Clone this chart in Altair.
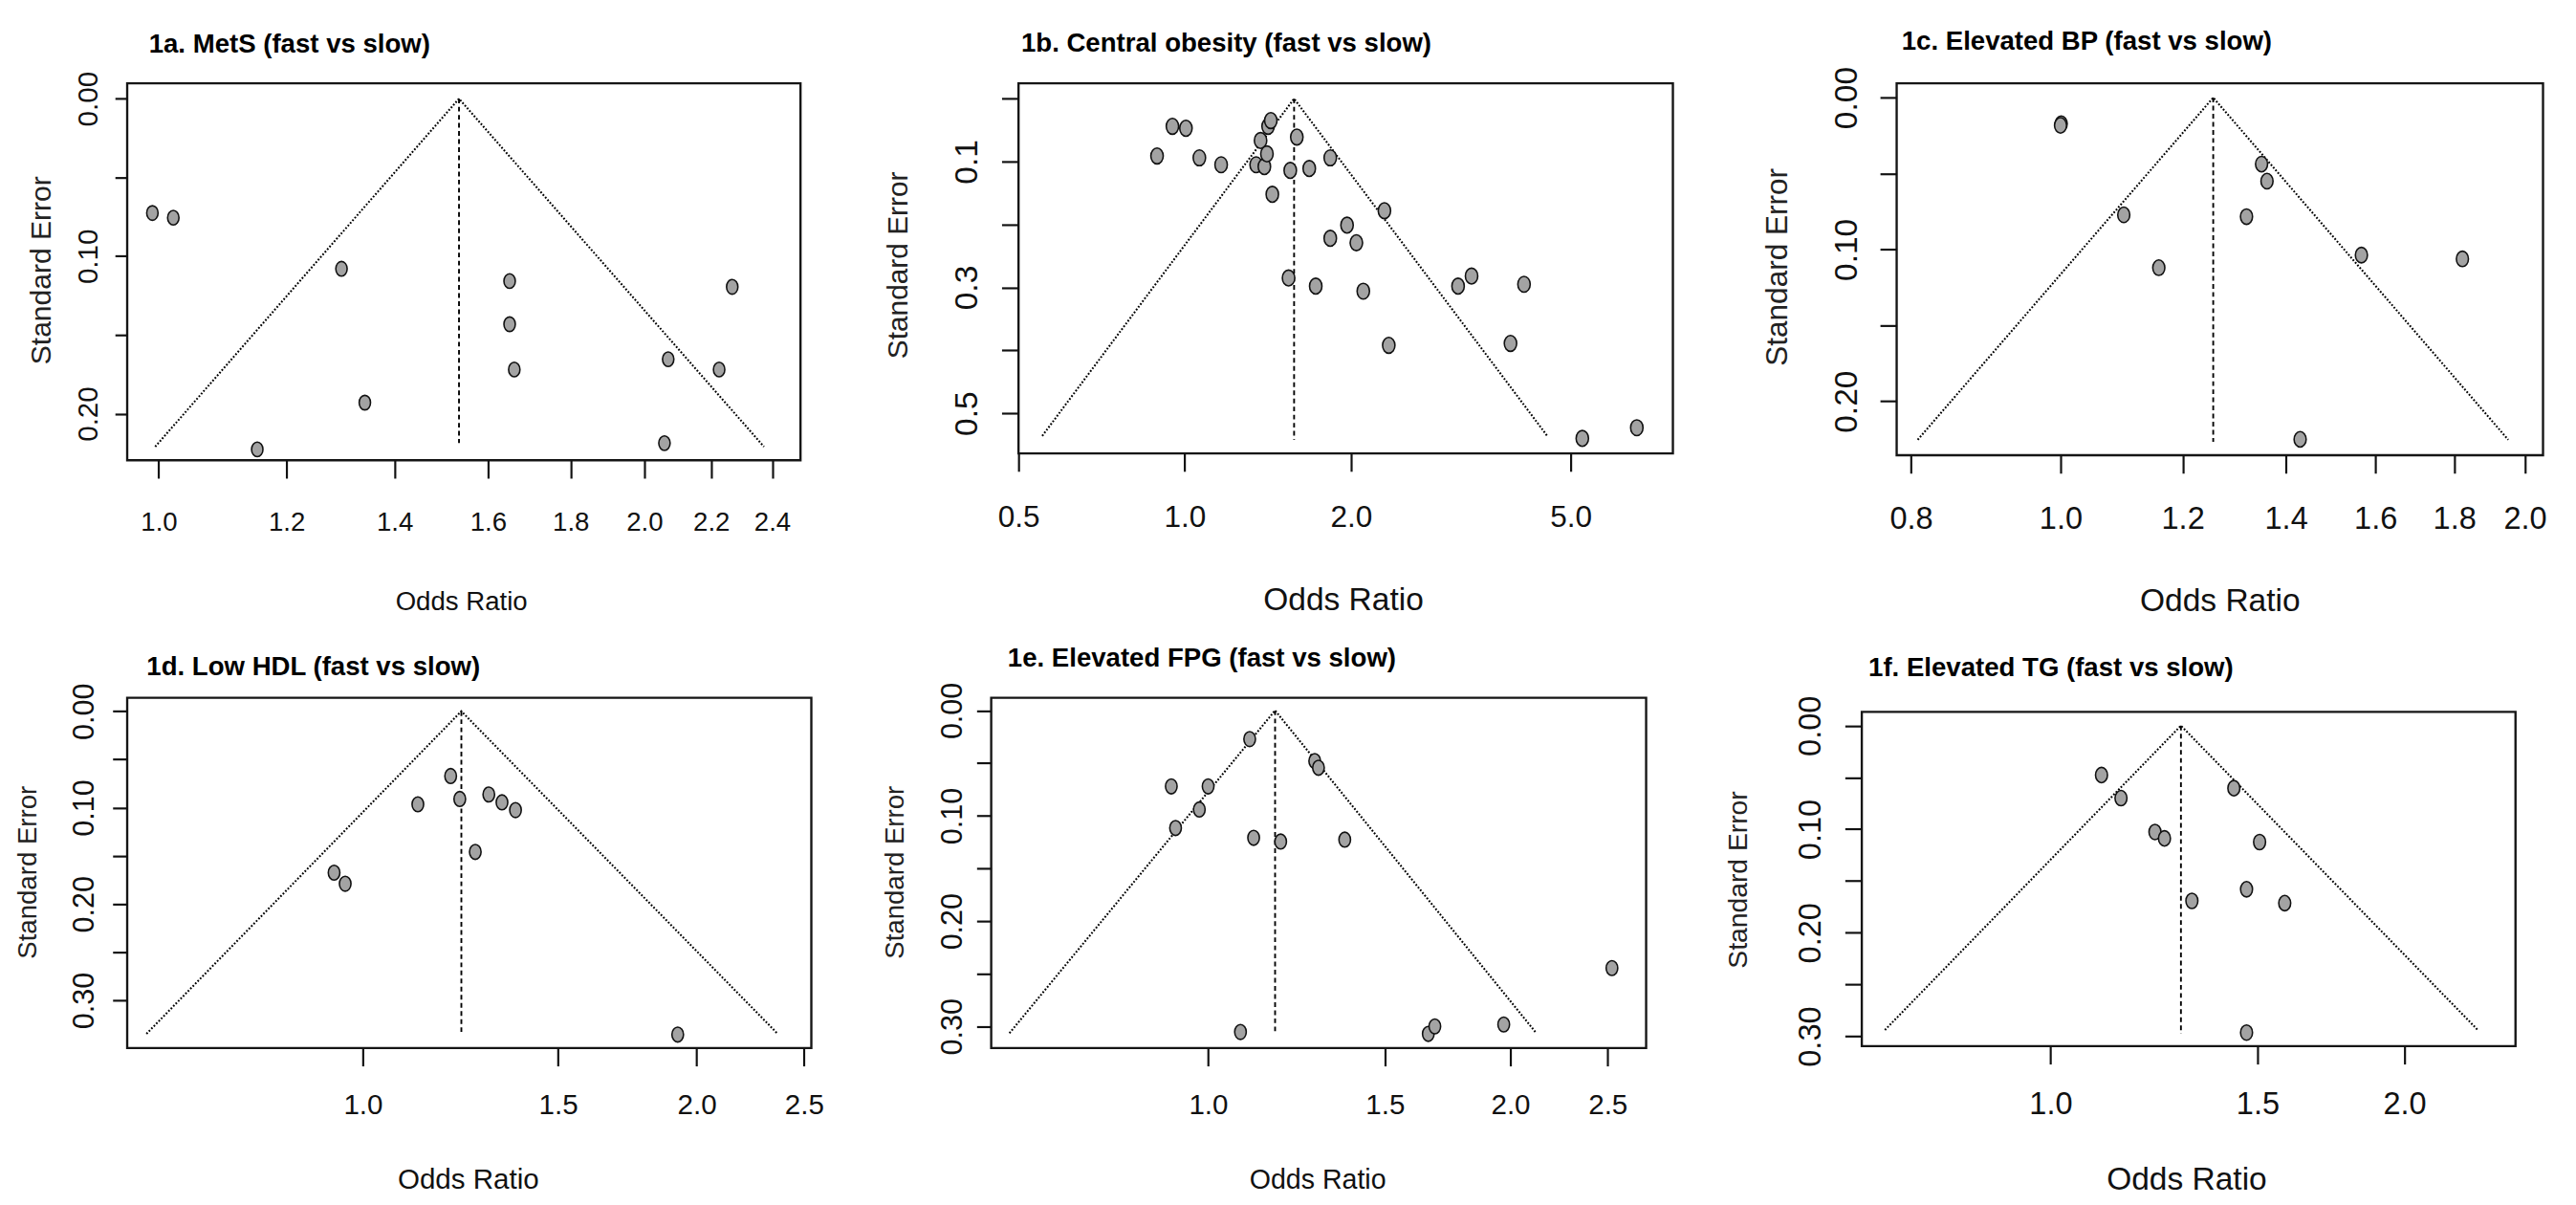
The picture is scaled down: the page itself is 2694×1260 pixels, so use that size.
import altair as alt
import pandas as pd

# ---------------- data ----------------
TITLES = [
    "1a. MetS (fast vs slow)",
    "1b. Central obesity (fast vs slow)",
    "1c. Elevated BP (fast vs slow)",
    "1d. Low HDL (fast vs slow)",
    "1e. Elevated FPG (fast vs slow)",
    "1f. Elevated TG (fast vs slow)",
]

# study odds ratios and standard errors
OR_A = [0.991, 1.021, 1.298, 1.342, 1.151, 1.650, 1.650, 1.661, 2.069, 2.225, 2.267, 2.058]
SE_A = [0.0726, 0.0756, 0.108, 0.193, 0.2227, 0.1158, 0.1432, 0.172, 0.1654, 0.172, 0.1195, 0.2187]

OR_B = [0.950, 1.005, 0.891, 1.063, 1.164, 1.347, 1.394, 1.372, 1.409, 1.416, 1.432, 1.441,
        1.553, 1.596, 1.681, 1.835, 1.542, 1.727, 1.835, 1.968, 2.046, 2.106, 2.300, 2.342,
        3.127, 3.308, 4.117, 3.891, 5.25, 6.59]
SE_B = [0.0439, 0.047, 0.091, 0.094, 0.105, 0.105, 0.108, 0.0665, 0.0878, 0.0439, 0.0348, 0.152,
        0.114, 0.061, 0.111, 0.094, 0.285, 0.298, 0.222, 0.201, 0.229, 0.306, 0.178, 0.392,
        0.298, 0.282, 0.295, 0.389, 0.540, 0.523]

OR_C = [1.001, 1.000, 1.099, 1.158, 1.320, 1.350, 1.361, 1.567, 1.822, 1.430]
SE_C = [0.0172, 0.0183, 0.0772, 0.112, 0.0784, 0.0438, 0.055, 0.1037, 0.1062, 0.225]

OR_D = [1.200, 1.121, 1.223, 1.299, 1.335, 1.373, 1.263, 0.942, 0.964, 1.923]
SE_D = [0.0672, 0.0965, 0.091, 0.0864, 0.0945, 0.1026, 0.146, 0.1675, 0.179, 0.3355]

OR_E = [1.100, 1.277, 1.288, 0.919, 1.000, 0.980, 0.928, 1.110, 1.181, 1.368, 2.525, 1.077,
        1.657, 1.682, 1.970]
SE_E = [0.0272, 0.048, 0.0544, 0.0721, 0.0721, 0.094, 0.1116, 0.1209, 0.1244, 0.1226, 0.2446,
        0.3053, 0.3071, 0.300, 0.2982]

OR_F = [1.105, 1.148, 1.227, 1.250, 1.432, 1.506, 1.468, 1.319, 1.582, 1.468]
SE_F = [0.0477, 0.070, 0.1027, 0.1089, 0.0604, 0.1124, 0.158, 0.1692, 0.1714, 0.2964]

ORS = [OR_A, OR_B, OR_C, OR_D, OR_E, OR_F]
SES = [SE_A, SE_B, SE_C, SE_D, SE_E, SE_F]

# pooled estimate (apex) and funnel corners
CENTER = [1.535, 1.578, 1.256, 1.227, 1.166, 1.291]
FUNNEL_LEFT = [0.995, 0.552, 0.808, 0.638, 0.634, 0.723]
FUNNEL_RIGHT = [2.372, 4.535, 1.951, 2.367, 2.123, 2.309]
FUNNEL_SE = [0.221, 0.536, 0.2253, 0.3347, 0.3064, 0.2939]
CENTER_SE_END = [0.2186, 0.542, 0.2266, 0.3328, 0.3053, 0.2975]

# axes
X_TICKS = [
    [1.0, 1.2, 1.4, 1.6, 1.8, 2.0, 2.2, 2.4],
    [0.5, 1.0, 2.0, 5.0],
    [0.8, 1.0, 1.2, 1.4, 1.6, 1.8, 2.0],
    [1.0, 1.5, 2.0, 2.5],
    [1.0, 1.5, 2.0, 2.5],
    [1.0, 1.5, 2.0],
]
Y_TICKS = [
    [0.0, 0.05, 0.1, 0.15, 0.2],
    [0.0, 0.1, 0.2, 0.3, 0.4, 0.5],
    [0.0, 0.05, 0.1, 0.15, 0.2],
    [0.0, 0.05, 0.1, 0.15, 0.2, 0.25, 0.3],
    [0.0, 0.05, 0.1, 0.15, 0.2, 0.25, 0.3],
    [0.0, 0.05, 0.1, 0.15, 0.2, 0.25, 0.3],
]
Y_LABELED = [
    [0.0, 0.1, 0.2],
    [0.1, 0.3, 0.5],
    [0.0, 0.1, 0.2],
    [0.0, 0.1, 0.2, 0.3],
    [0.0, 0.1, 0.2, 0.3],
    [0.0, 0.1, 0.2, 0.3],
]
Y_FORMAT = [".2f", ".1f", ".2f", ".2f", ".2f", ".2f"]
X_DOMAIN = [[0.956, 2.499], [0.5, 7.66], [0.783, 2.055], [0.613, 2.538], [0.608, 2.731], [0.691, 2.486]]
Y_DOMAIN = [[-0.00975, 0.2296], [-0.0244, 0.5638], [-0.0094, 0.2355],
            [-0.014, 0.3494], [-0.0121, 0.3205], [-0.0133, 0.3095]]

# ---------------- layout / style ----------------
INK = "#111111"
SANS = "Liberation Sans, Arial, sans-serif"
ELLIPSE = "M0,-1 A0.78,1 0 1,1 0,1 A0.78,1 0 1,1 0,-1 Z"

LAY = [
    dict(w=714.6, h=400.0, E=121.7, R=33.7, T=77.5, B=174.5, tdx=23, tdy=-32.5, yt=13, yl_fs=30, yl_pad=18.7,
         yt_fs=30.5, yt_x=-81.3, yt_y=198, xl_fs=28, xl_pad=55.2, xt_fs=28, xt_x=354.3, xt_y=158.6, size=240),
    dict(w=694.5, h=392.7, E=176.5, R=49.0, T=76.7, B=182.6, tdx=2.8, tdy=-33.9, yt=18, yl_fs=34, yl_pad=26.8,
         yt_fs=30.3, yt_x=-118.4, yt_y=192.6, xl_fs=32, xl_pad=58.1, xt_fs=34, xt_x=344.4, xt_y=165.6, size=285),
    dict(w=686.0, h=394.7, E=185.0, R=33.0, T=74.7, B=182.6, tdx=5.3, tdy=-35.9, yt=17.7, yl_fs=34, yl_pad=25.3,
         yt_fs=32, yt_x=-116.9, yt_y=194.6, xl_fs=33, xl_pad=58.1, xt_fs=34, xt_x=342.8, xt_y=165.2, size=270),
    dict(w=726.1, h=371.7, E=133.2, R=40.7, T=71.7, B=164.6, tdx=20.6, tdy=-24.4, yt=15.5, yl_fs=31, yl_pad=20.1,
         yt_fs=28, yt_x=-97.4, yt_y=184.9, xl_fs=30, xl_pad=50.9, xt_fs=30, xt_x=361.6, xt_y=149, size=250),
    dict(w=695.1, h=371.7, E=147.6, R=32.3, T=71.7, B=164.6, tdx=17.5, tdy=-33.0, yt=15.5, yl_fs=31, yl_pad=16.1,
         yt_fs=28, yt_x=-93.3, yt_y=184.9, xl_fs=30, xl_pad=50.9, xt_fs=29, xt_x=346.1, xt_y=149, size=250),
    dict(w=693.8, h=354.7, E=177.6, R=47.6, T=86.8, B=166.5, tdx=7.1, tdy=-37.6, yt=18, yl_fs=33, yl_pad=26,
         yt_fs=28.7, yt_x=-122.3, yt_y=177.7, xl_fs=33, xl_pad=52.5, xt_fs=34, xt_x=344.4, xt_y=151.5, size=265),
]


def panel(i):
    L = LAY[i]
    w, h = L["w"], L["h"]
    x_enc = alt.X(
        "or:Q",
        scale=alt.Scale(type="log", domain=X_DOMAIN[i], nice=False, zero=False),
        axis=alt.Axis(
            values=X_TICKS[i], format=".1f", domain=False, grid=False,
            tickSize=19, tickWidth=2.2, tickColor=INK,
            labelFont=SANS, labelFontSize=L["xl_fs"], labelColor=INK, labelPadding=L["xl_pad"],
            labelAngle=0, labelAlign="center", labelBaseline="alphabetic",
            labelOverlap=False, labelFlush=False,
            title="Odds Ratio", titleFont=SANS, titleFontSize=L["xt_fs"], titleFontWeight="normal",
            titleColor=INK, titleX=L["xt_x"], titleY=L["xt_y"], titleAlign="center",
            titleBaseline="alphabetic",
        ),
    )
    lab_expr = "indexof(%s, datum.value) >= 0 ? datum.label : ''" % str(Y_LABELED[i])
    y_enc = alt.Y(
        "se:Q",
        scale=alt.Scale(domain=Y_DOMAIN[i], reverse=True, nice=False, zero=False),
        axis=alt.Axis(
            values=Y_TICKS[i], format=Y_FORMAT[i], labelExpr=lab_expr, domain=False, grid=False,
            tickSize=L["yt"], tickWidth=2.2, tickColor=INK,
            labelFont=SANS, labelFontSize=L["yl_fs"], labelColor=INK, labelPadding=L["yl_pad"],
            labelAngle=270, labelAlign="center", labelBaseline="alphabetic",
            labelOverlap=False, labelFlush=False,
            title="Standard Error", titleFont=SANS, titleFontSize=L["yt_fs"], titleFontWeight="normal",
            titleColor="#222222", titleAngle=270, titleX=L["yt_x"], titleY=L["yt_y"],
            titleAlign="center", titleBaseline="alphabetic",
        ),
    )

    pts = pd.DataFrame({"or": ORS[i], "se": SES[i]})
    funnel = pd.DataFrame({
        "or": [FUNNEL_LEFT[i], CENTER[i], FUNNEL_RIGHT[i]],
        "se": [FUNNEL_SE[i], 0.0, FUNNEL_SE[i]],
        "k": [0, 1, 2],
    })
    center = pd.DataFrame({"or": [CENTER[i]], "se": [0.0], "se2": [CENTER_SE_END[i]]})
    head = pd.DataFrame({"t": [TITLES[i]]})

    frame = alt.Chart(head).mark_rect(opacity=0).encode(
        x=alt.value(-L["E"]), x2=alt.value(w + L["R"]),
        y=alt.value(-L["T"]), y2=alt.value(h + L["B"]),
    )
    funnel_line = alt.Chart(funnel).mark_line(
        color="#000000", strokeWidth=2.1, strokeDash=[1.8, 1.9]
    ).encode(x=x_enc, y=y_enc, order="k:O")
    center_line = alt.Chart(center).mark_rule(
        color="#000000", strokeWidth=1.9, strokeDash=[5, 3.6]
    ).encode(x=x_enc, y=y_enc, y2="se2:Q")
    points = alt.Chart(pts).mark_point(
        shape=ELLIPSE, size=L["size"], filled=False, fill="#a3a3a3", fillOpacity=1,
        stroke="#111111", strokeWidth=1.6, opacity=1,
    ).encode(x=x_enc, y=y_enc)
    title = alt.Chart(head).mark_text(
        align="left", baseline="alphabetic", font=SANS, fontWeight="bold", fontSize=28, color="#000000",
    ).encode(x=alt.value(L["tdx"]), y=alt.value(L["tdy"]), text="t:N")

    return alt.layer(frame, funnel_line, center_line, points, title).properties(width=w, height=h)


chart = alt.concat(
    *[panel(i) for i in range(6)],
    columns=3, spacing=0, align="none", bounds="full", padding=0, background="white",
).configure_view(
    stroke="#151515", strokeWidth=2.4, fill="white"
)

chart.save("out.html", embed_options={"renderer": "svg", "actions": False})
